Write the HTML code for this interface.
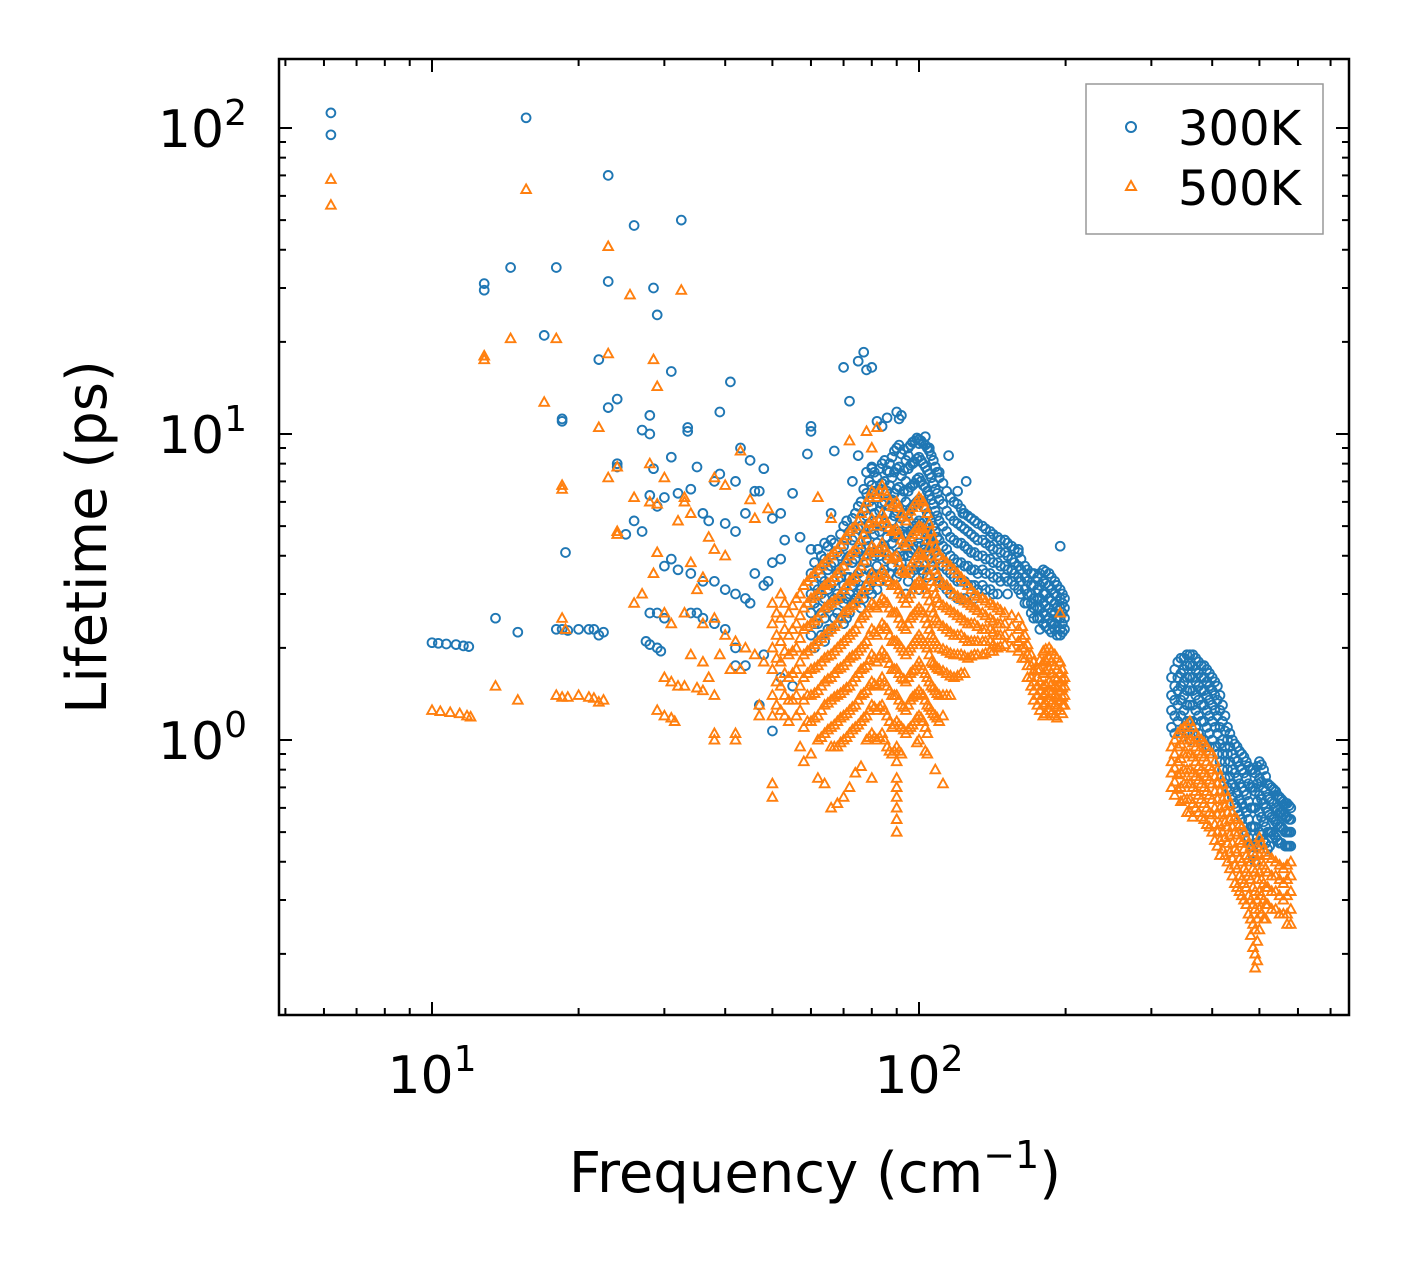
<!DOCTYPE html>
<html><head><meta charset="utf-8"><style>
html,body{margin:0;padding:0;background:#fff;}
svg{display:block;font-family:"DejaVu Sans","Liberation Sans",sans-serif;}
</style></head><body>
<svg id="chart" width="1408" height="1265" viewBox="0 0 1408 1265" xmlns="http://www.w3.org/2000/svg">
<rect width="1408" height="1265" fill="#fff"/>
<g id="marks"></g>
<g id="axes"></g>
<rect x="279" y="59" width="1070" height="956" fill="none" stroke="#000" stroke-width="2.5"/>
<text x="815" y="1192" font-size="56" text-anchor="middle">Frequency (cm<tspan font-size="38" dy="-24">−1</tspan><tspan dy="24">)</tspan></text>
<text transform="translate(106,537) rotate(-90)" font-size="56" text-anchor="middle">Lifetime (ps)</text>
<g>
<rect x="1086" y="84" width="237" height="150" fill="#fff" stroke="#999" stroke-width="1.5"/>
<circle cx="1131" cy="127" r="5" fill="none" stroke="#1f77b4" stroke-width="2"/>
<text x="1178" y="145" font-size="48">300K</text>
<path d="M1131,181 L1136,190 L1126,190 Z" fill="none" stroke="#ff7f0e" stroke-width="2"/>
<text x="1178" y="205" font-size="48">500K</text>
</g>
</svg>
<script>
// ---- data ----
const blueSparseF=[6.2,6.2,15.6,23,26,32.5,12.8,12.8,14.5,18,23,28.5,29,17,22,31,23,24,28,33.5,33.5,41,39,28,27,18.5,18.5,18.8,24,24,28.5,31,35,38,39,42,45,43,48,46,47,34,32,30,28,29,26,27,25,36,37,40,42,44,50,52,55,53,57,60,34,36,38,40,42,44,45,46,48,49,50,52,31,32,30,35,34,36,38,40,42,29,28,30,27.5,28,29,29.5,10,10.3,10.7,11.2,11.6,11.9,13.5,15,18,18.5,19,20,21,21.5,22,22.5,42,44,47,50,48,52,55,60,60,59,64,66,67,70,72,75,77,78,80,82,86,84,90,92,91,75,73,80,87,95,100,103,105,110,115,120,125,123,130,140,150,160,195];
const blueSparseL=[112,95,108,70,48,50,31,29.5,35,35,31.5,30,24.5,21,17.5,16,12.2,13,11.5,10.5,10.2,14.8,11.8,10,10.3,11.2,11,4.1,8,7.8,7.7,8.4,7.8,7,7.4,7,8.2,9,7.7,6.5,6.5,6.6,6.4,6.2,6.3,5.8,5.2,4.8,4.7,5.5,5.2,5.1,4.8,5.5,5.3,5.5,6.4,4.5,4.6,4.2,3.5,3.3,3.3,3.1,3.0,2.9,2.8,3.5,3.2,3.3,3.8,3.9,3.9,3.6,3.7,2.6,2.6,2.5,2.4,2.3,2.0,2.6,2.6,2.5,2.1,2.05,2.0,1.95,2.08,2.07,2.06,2.05,2.03,2.02,2.5,2.25,2.3,2.3,2.28,2.3,2.3,2.3,2.2,2.25,1.75,1.75,1.3,1.07,1.9,1.6,1.5,10.6,10.2,8.6,4.4,5.5,8.8,16.5,12.8,17.3,18.5,16.2,16.5,11,11.3,10.6,11.8,11.5,11.2,8.5,7,7.7,7.5,8.5,9.3,9.8,9,7.5,8.5,6.5,7,5.5,5.2,4.6,4.5,4.2,4.3];
const blueDenseF=[60,62,64,66,68,70,72,74,76,78,80,82,84,86,88,90,92,94,96,98,100,102,104,106,108,110,114,118,122,126,130,135,140,145,150,155,160,165,170,175,180,185,190,195,199,330,340,350,360,370,380,390,400,410,420,430,440,450,460,470,480,490,500,510,520,530,540,550,560,570,580];
const blueDenseL=[[3.5,3.0,2.6,2.2],[4.2,3.6,3.1,2.7,2.4],[3.9,3.3,2.9,2.5,2.1],[4.5,3.7,3.2,2.8,2.3],[4.1,3.5,3.0,2.6],[5.0,4.3,3.7,3.2,2.8,2.4],[4.8,4.0,3.4,3.0,2.6],[5.5,4.6,3.9,3.3,2.9],[6.0,5.0,4.2,3.6,3.1,2.7],[7.5,6.4,5.4,4.5,3.8,3.2],[7.8,6.8,5.8,4.9,4.1,3.5,3.0],[7.2,6.2,5.2,4.4,3.7,3.1],[8.0,6.9,5.9,5.0,4.2,3.5],[7.6,6.5,5.5,4.6,3.9,3.3],[8.4,7.2,6.1,5.2,4.4,3.7],[9.0,7.7,6.6,5.6,4.7,4.0,3.4],[8.6,7.3,6.2,5.3,4.5,3.8],[8.2,7.0,6.0,5.1,4.3,3.6,3.0],[9.2,7.9,6.7,5.7,4.8,4.1,3.5],[9.5,8.1,6.9,5.9,5.0,4.2,3.6],[9.6,8.4,7.2,6.1,5.2,4.4,3.7,3.1],[9.3,8.0,6.8,5.8,4.9,4.2,3.5],[9.0,7.6,6.5,5.5,4.7,4.0,3.4],[8.5,7.2,6.1,5.2,4.4,3.7],[7.8,6.6,5.6,4.8,4.1,3.5],[7.2,6.1,5.2,4.5,3.9,3.3],[6.5,5.6,4.8,4.2,3.6,3.1],[6.0,5.2,4.5,3.9,3.4],[5.7,5.0,4.4,3.8,3.3,2.9],[5.4,4.8,4.2,3.7,3.2],[5.2,4.6,4.1,3.6,3.2,2.9],[5.0,4.5,4.0,3.6,3.2],[4.8,4.3,3.9,3.5,3.1],[4.6,4.2,3.8,3.4,3.0],[4.5,4.1,3.7,3.4],[4.3,3.9,3.6,3.3],[4.1,3.7,3.4,3.1],[3.7,3.4,3.1,2.8],[3.5,3.2,3.0,2.8,2.6],[3.4,3.1,2.9,2.7,2.5],[3.6,3.3,3.0,2.8,2.6,2.4],[3.5,3.2,2.9,2.7,2.5,2.3],[3.3,3.0,2.8,2.6,2.4,2.3],[3.1,2.9,2.7,2.5,2.3,2.2],[2.9,2.7,2.5,2.3],
[1.6,1.4,1.25,1.1],[1.8,1.6,1.45,1.3,1.15],[1.85,1.7,1.55,1.4,1.25,1.1],[1.9,1.75,1.6,1.45,1.3,1.15,1.0],[1.85,1.7,1.55,1.4,1.25,1.1],[1.75,1.6,1.45,1.3,1.15,1.0],[1.7,1.55,1.4,1.25,1.1,0.95],[1.6,1.45,1.3,1.15,1.0],[1.5,1.35,1.2,1.05,0.9],[1.3,1.15,1.0,0.9,0.8],[1.1,1.0,0.9,0.8,0.7],[1.0,0.9,0.8,0.72,0.65],[0.95,0.85,0.75,0.67,0.6],[0.9,0.8,0.7,0.62,0.55],[0.85,0.75,0.66,0.58,0.5],[0.8,0.7,0.6,0.52,0.45],[0.78,0.68,0.6,0.52,0.46,0.4],[0.85,0.75,0.66,0.58,0.5],[0.8,0.7,0.62,0.54,0.47],[0.72,0.65,0.58,0.5,0.44],[0.7,0.63,0.56,0.5],[0.68,0.6,0.54,0.48],[0.65,0.58,0.52,0.46],[0.63,0.57,0.51],[0.62,0.56,0.5,0.45],[0.6,0.55,0.5,0.45]];
const blueFillF=[61,63,65,67,69,71,73,75,77,79,81,83,85,87,89,91,93,95,97,99,101,103,105,107,109,112,116,120,124,128,132,137,142,147,152,157,162,167,172,177,182,187,192,197,335,345,355,365,375,385,395,405,415,425,435,445,455,465,475,485,495,505,515,525,535,545,555,565,575];
const blueFillL=[[3.8,3.2,2.8,2.4,2.0],[4.0,3.4,3.0,2.6,2.2],[4.3,3.6,3.1,2.7,2.3],[4.4,3.8,3.3,2.9,2.5],[4.7,4.0,3.4,2.9,2.5],[5.2,4.5,3.9,3.4,2.9,2.5],[5.3,4.5,3.8,3.2,2.8],[5.8,4.9,4.1,3.5,3.0],[6.6,5.6,4.7,4.0,3.4,2.9],[7.0,6.0,5.1,4.3,3.6,3.1],[7.5,6.5,5.5,4.7,4.0,3.4],[7.7,6.6,5.6,4.8,4.0,3.3],[8.2,7.0,6.0,5.1,4.3,3.6],[8.0,6.8,5.8,4.9,4.1,3.5],[8.8,7.5,6.4,5.4,4.6,3.9],[9.2,7.8,6.7,5.7,4.8,4.1,3.5],[8.9,7.6,6.5,5.5,4.7,4.0],[9.0,7.7,6.5,5.5,4.7,4.0,3.3],[9.4,8.0,6.8,5.8,4.9,4.2],[9.7,8.3,7.1,6.0,5.1,4.3,3.7],[9.5,8.2,7.0,6.0,5.1,4.3,3.6],[9.2,7.8,6.7,5.7,4.8,4.1],[8.8,7.4,6.3,5.4,4.6,3.9],[8.2,6.9,5.9,5.0,4.3,3.6],[7.5,6.4,5.4,4.6,4.0,3.4],[6.9,5.9,5.0,4.3,3.7,3.2],[6.2,5.4,4.6,4.0,3.5,3.0],[5.9,5.1,4.4,3.8,3.3,2.9],[5.5,4.9,4.3,3.7,3.3,2.9],[5.3,4.7,4.1,3.6,3.2],[5.1,4.5,4.0,3.5,3.1],[4.9,4.4,3.9,3.5,3.1],[4.7,4.2,3.8,3.4,3.0],[4.5,4.1,3.7,3.3],[4.4,4.0,3.6,3.3,3.0],[4.2,3.8,3.5,3.2],[3.9,3.6,3.3,3.0],[3.6,3.3,3.0,2.8],[3.5,3.2,2.9,2.7,2.5],[3.5,3.2,2.9,2.7,2.5,2.3],[3.55,3.25,3.0,2.75,2.55,2.35],[3.4,3.1,2.85,2.6,2.4,2.25],[3.2,2.95,2.7,2.5,2.35,2.2],[3.0,2.8,2.6,2.4,2.25],
[1.7,1.5,1.35,1.2,1.05],[1.85,1.65,1.5,1.35,1.2,1.05],[1.9,1.75,1.6,1.45,1.3,1.15,1.05],[1.9,1.75,1.6,1.45,1.3,1.15,1.05],[1.8,1.65,1.5,1.35,1.2,1.05],[1.75,1.6,1.45,1.3,1.15,1.0],[1.65,1.5,1.35,1.2,1.05,0.95],[1.55,1.4,1.25,1.1,0.95],[1.4,1.25,1.1,0.97,0.85],[1.2,1.07,0.95,0.85,0.75],[1.05,0.95,0.85,0.76,0.68],[0.97,0.87,0.78,0.7,0.62],[0.92,0.82,0.72,0.64,0.57],[0.88,0.78,0.68,0.6,0.52],[0.82,0.72,0.63,0.55,0.48],[0.8,0.7,0.6,0.52,0.45,0.42],[0.82,0.72,0.63,0.55,0.48,0.42],[0.83,0.73,0.64,0.56,0.49],[0.76,0.68,0.6,0.52,0.46],[0.71,0.64,0.57,0.5,0.45],[0.69,0.62,0.55,0.49],[0.66,0.59,0.53,0.47],[0.64,0.58,0.52,0.46],[0.62,0.56,0.5,0.45],[0.61,0.55,0.5,0.45]];
const orangeSparseF=[6.2,6.2,15.6,23,25.5,32.5,12.8,12.8,14.5,18,23,28.5,29,17,22,24,23,18.5,18.5,28,30,28,29,26,24,24,28.5,27,26,29,33,33,34,32,38,43,40,45,49,46,37,38,40,34,36,35,33,31,30,36,38,40,42,44,46,48,39,41,43,34,36,37,31,30,32,33,35,36,38,30,31,31.5,29,10,10.4,10.9,11.4,11.8,12,13.5,15,18,18.5,19,20,21,21.5,22,22.5,18.5,18.8,38,38,42,42,47,47,50,50,58,57,60,62,64,66,68,70,72,74,76,80,90,90,90,90,90,90,108,112,62,66,72,78,80,82,195];
const orangeSparseL=[68,56,63,41,28.5,29.5,18,17.5,20.5,20.5,18.3,17.5,14.3,12.7,10.5,7.8,7.2,6.8,6.6,8,7.2,6.0,5.9,6.2,4.8,4.7,3.5,3.0,2.8,4.1,6.2,6,5.5,5.2,7.2,8.8,6.8,6.1,5.7,5.3,4.6,4.2,4.0,3.8,3.4,3.1,2.6,2.4,2.6,2.4,2.5,2.2,2.1,2.0,1.9,1.8,1.9,1.7,1.7,1.9,1.8,1.6,1.55,1.6,1.5,1.5,1.48,1.45,1.4,1.2,1.18,1.15,1.25,1.25,1.24,1.23,1.22,1.2,1.19,1.5,1.35,1.4,1.38,1.38,1.4,1.38,1.37,1.33,1.35,2.5,2.3,1.05,1.0,1.05,1.0,1.3,1.2,0.72,0.65,0.85,0.95,0.9,0.75,0.72,0.6,0.62,0.65,0.7,0.78,0.82,0.75,0.5,0.55,0.6,0.65,0.7,0.75,0.8,0.72,6.2,5.3,9.5,10.2,9.0,10.5,2.6];
const orangeDenseF=[50,52,54,56,58,60,62,64,66,68,70,72,74,76,78,80,82,84,86,88,90,92,94,96,98,100,102,104,106,108,110,114,118,122,126,130,135,140,145,150,160,165,170,175,180,185,190,195,199,330,340,350,360,370,380,390,400,410,420,430,440,450,460,470,480,490,500,510,520,540,560,580];
const orangeDenseL=[[2.8,2.4,2.0,1.7,1.4,1.2],[3.0,2.5,2.1,1.8,1.5,1.25],[2.6,2.2,1.9,1.6,1.35,1.15],[2.9,2.4,2.0,1.7,1.4,1.2],[3.2,2.7,2.3,1.9,1.6,1.35,1.1],[3.4,2.9,2.4,2.0,1.7,1.4,1.15],[3.6,3.0,2.5,2.1,1.75,1.45,1.2,1.0],[3.8,3.2,2.7,2.2,1.85,1.55,1.3,1.05],[4.0,3.3,2.8,2.3,1.9,1.6,1.35,1.1,0.95],[4.2,3.5,2.9,2.4,2.0,1.7,1.4,1.15,0.95],[4.5,3.7,3.1,2.6,2.1,1.75,1.45,1.2,1.0],[4.8,4.0,3.3,2.7,2.2,1.85,1.5,1.25,1.05],[5.0,4.2,3.4,2.8,2.3,1.9,1.6,1.3,1.1],[5.5,4.5,3.7,3.0,2.5,2.0,1.7,1.4,1.15],[6.0,4.9,4.0,3.2,2.6,2.1,1.75,1.45,1.2,1.0],[6.5,5.3,4.3,3.5,2.8,2.3,1.9,1.55,1.3,1.05],[6.2,5.0,4.1,3.3,2.7,2.2,1.8,1.5,1.25,1.0],[6.8,5.5,4.4,3.6,2.9,2.4,1.95,1.6,1.3,1.05],[6.3,5.1,4.1,3.4,2.8,2.3,1.85,1.5,1.2,0.95],[5.8,4.8,3.9,3.2,2.6,2.1,1.7,1.4,1.1,0.9],[6.0,4.9,4.0,3.2,2.6,2.1,1.7,1.4,1.15,0.95,0.85],[5.5,4.5,3.6,3.0,2.4,2.0,1.6,1.3,1.1,0.9],[5.2,4.3,3.5,2.8,2.3,1.9,1.55,1.25,1.05],[5.6,4.6,3.7,3.0,2.5,2.0,1.65,1.35,1.1],[5.9,4.8,3.9,3.2,2.6,2.1,1.7,1.4,1.15],[6.2,5.0,4.1,3.3,2.7,2.2,1.8,1.45,1.2,1.0],[6.0,4.9,4.0,3.2,2.6,2.1,1.7,1.4,1.15],[5.5,4.5,3.6,3.0,2.4,2.0,1.6,1.3,1.05,0.9],[4.8,4.0,3.3,2.7,2.2,1.8,1.5,1.25],[4.3,3.6,3.0,2.5,2.1,1.75,1.45,1.2],[4.0,3.3,2.8,2.4,2.0,1.7,1.4,1.15],[3.8,3.2,2.7,2.3,1.95,1.65,1.4],[3.6,3.0,2.6,2.2,1.9,1.6],[3.4,2.9,2.5,2.2,1.9,1.65],[3.2,2.8,2.4,2.1,1.85],[3.0,2.7,2.4,2.1,1.9],[2.9,2.6,2.3,2.1,1.9],[2.8,2.5,2.3,2.1,1.95],[2.7,2.4,2.2,2.0],[2.6,2.4,2.2,2.05],[2.5,2.3,2.1,1.95],[2.2,2.0,1.85],[1.9,1.75,1.6,1.5],[1.7,1.6,1.5,1.4,1.3],[1.95,1.8,1.65,1.5,1.4,1.3,1.2],[2.0,1.85,1.7,1.55,1.45,1.35,1.25],[1.9,1.75,1.6,1.5,1.4,1.3,1.2],[1.8,1.65,1.55,1.45,1.35,1.25],[1.6,1.5,1.4,1.3],
[0.95,0.85,0.78,0.7],[1.05,0.95,0.85,0.77,0.69],[1.1,1.0,0.9,0.8,0.72,0.64],[1.15,1.0,0.9,0.8,0.72,0.64,0.58],[1.05,0.95,0.85,0.76,0.68,0.6],[1.0,0.9,0.8,0.72,0.64,0.56],[0.95,0.85,0.76,0.68,0.6,0.53],[0.9,0.8,0.72,0.64,0.57,0.5],[0.8,0.72,0.64,0.57,0.5,0.45],[0.72,0.64,0.57,0.5,0.44],[0.65,0.58,0.52,0.46,0.4],[0.58,0.52,0.46,0.41,0.36],[0.55,0.49,0.43,0.38,0.33],[0.52,0.46,0.4,0.35,0.31],[0.48,0.42,0.37,0.33,0.29],[0.45,0.4,0.35,0.3,0.26,0.23],[0.42,0.37,0.32,0.28,0.24,0.2,0.18],[0.48,0.42,0.37,0.32,0.28,0.24],[0.44,0.39,0.34,0.3,0.26],[0.42,0.37,0.33,0.29],[0.4,0.36,0.32,0.28],[0.38,0.34,0.3,0.27],[0.4,0.36,0.32,0.28,0.25]];
const orangeFillF=[51,53,55,57,59,61,63,65,67,69,71,73,75,77,79,81,83,85,87,89,91,93,95,97,99,101,103,105,107,109,112,116,120,124,128,132,137,142,147,155,163,167,172,177,182,187,192,197,335,345,355,365,375,385,395,405,415,425,435,445,455,465,475,485,495,505,515,530,550,570];
const orangeFillL=[[2.6,2.2,1.85,1.55,1.3],[2.8,2.3,1.95,1.65,1.4,1.2],[2.75,2.3,1.95,1.65,1.35],[3.0,2.55,2.15,1.8,1.5,1.25],[3.3,2.8,2.35,1.95,1.65,1.4,1.15],[3.5,2.95,2.45,2.05,1.72,1.42,1.18],[3.7,3.1,2.6,2.15,1.8,1.5,1.25,1.02],[3.9,3.25,2.75,2.25,1.88,1.58,1.32,1.08],[4.1,3.4,2.85,2.35,1.95,1.65,1.38,1.12,0.95],[4.35,3.6,3.0,2.5,2.05,1.72,1.42,1.18,0.98],[4.65,3.85,3.2,2.65,2.15,1.8,1.48,1.22,1.02],[4.9,4.1,3.35,2.75,2.25,1.88,1.55,1.28,1.08],[5.2,4.35,3.55,2.9,2.4,1.95,1.65,1.35,1.12],[5.7,4.7,3.85,3.1,2.55,2.05,1.72,1.42,1.18],[6.2,5.1,4.15,3.35,2.7,2.2,1.82,1.5,1.25,1.02],[6.35,5.15,4.2,3.4,2.75,2.25,1.85,1.52,1.28,1.02],[6.5,5.25,4.25,3.45,2.8,2.3,1.88,1.55,1.28,1.02],[6.5,5.3,4.25,3.5,2.85,2.35,1.9,1.55,1.25,1.0],[6.0,4.95,4.0,3.3,2.7,2.2,1.78,1.45,1.15,0.92],[5.9,4.85,3.95,3.2,2.6,2.1,1.7,1.4,1.12,0.92],[5.75,4.7,3.8,3.1,2.5,2.05,1.65,1.35,1.12,0.92],[5.35,4.4,3.55,2.9,2.35,1.95,1.58,1.28,1.08],[5.4,4.45,3.6,2.9,2.4,1.95,1.6,1.3,1.08],[5.75,4.7,3.8,3.1,2.55,2.05,1.68,1.38,1.12],[6.05,4.9,4.0,3.25,2.65,2.15,1.75,1.42,1.18,0.98],[6.1,4.95,4.05,3.25,2.65,2.15,1.75,1.42,1.18],[5.75,4.7,3.8,3.1,2.5,2.05,1.65,1.35,1.1,0.92],[5.1,4.25,3.45,2.85,2.3,1.9,1.55,1.28],[4.55,3.8,3.15,2.6,2.15,1.78,1.48,1.22],[4.15,3.45,2.9,2.45,2.05,1.72,1.42,1.18],[3.9,3.25,2.75,2.35,1.98,1.68,1.4,1.2],[3.7,3.1,2.65,2.25,1.92,1.62,1.4],[3.5,2.95,2.55,2.2,1.9,1.62],[3.3,2.85,2.45,2.15,1.88,1.65],[3.1,2.75,2.4,2.1,1.88],[2.95,2.65,2.35,2.1,1.9],[2.85,2.55,2.3,2.1,1.92],[2.75,2.45,2.25,2.05,1.95],[2.65,2.4,2.2,2.02],[2.55,2.35,2.15,2.0],[2.35,2.15,2.0,1.85],[2.05,1.9,1.75,1.6],[1.8,1.68,1.55,1.45,1.35],[1.82,1.7,1.55,1.45,1.35,1.25],[1.98,1.82,1.68,1.52,1.42,1.32,1.22],[1.95,1.8,1.65,1.52,1.42,1.32,1.22],[1.85,1.7,1.58,1.48,1.38,1.28,1.18],[1.7,1.58,1.48,1.38,1.3,1.22],
[1.0,0.9,0.81,0.73,0.66],[1.08,0.97,0.87,0.78,0.7,0.63],[1.12,1.0,0.9,0.8,0.72,0.64,0.58],[1.1,0.98,0.88,0.78,0.7,0.62,0.56],[1.02,0.92,0.82,0.74,0.66,0.58],[0.98,0.88,0.78,0.7,0.62,0.55],[0.92,0.82,0.74,0.66,0.58,0.52],[0.85,0.76,0.68,0.6,0.53,0.47],[0.76,0.68,0.6,0.53,0.47,0.42],[0.68,0.61,0.54,0.48,0.42],[0.62,0.55,0.49,0.43,0.38],[0.56,0.5,0.44,0.39,0.34],[0.53,0.47,0.41,0.36,0.32],[0.5,0.44,0.38,0.34,0.3],[0.46,0.41,0.36,0.31,0.27],[0.43,0.38,0.33,0.29,0.25,0.21],[0.45,0.4,0.35,0.3,0.26,0.22,0.19],[0.46,0.4,0.35,0.31,0.27],[0.43,0.38,0.33,0.29,0.26],[0.41,0.36,0.32,0.28],[0.39,0.35,0.31,0.27],[0.39,0.35,0.31,0.27,0.25]];
const xMajorTicks=[10,100];
const xMajorLabels=["1","2"];
const xMinorTicks=[5,6,7,8,9,20,30,40,50,60,70,80,90,200,300,400,500,600,700];
const yMajorTicks=[1,10,100];
const yMajorLabels=["0","1","2"];
const yMinorTicks=[0.2,0.3,0.4,0.5,0.6,0.7,0.8,0.9,2,3,4,5,6,7,8,9,20,30,40,50,60,70,80,90];

// ---- axes ----
const X0=279,X1=1349,Y0=59,Y1=1015;
function xs(f){return 432+487*Math.log10(f/10);}
function ys(v){return 740-306*Math.log10(v);}
const NS="http://www.w3.org/2000/svg";
const marks=document.getElementById('marks');
const axes=document.getElementById('axes');
function el(t,a,p){const e=document.createElementNS(NS,t);for(const k in a)e.setAttribute(k,a[k]);p.appendChild(e);return e;}

function circ(f,v){
  const c=el('circle',{cx:xs(f).toFixed(1),cy:ys(v).toFixed(1),r:4.4,fill:'none',stroke:'#1f77b4','stroke-width':1.9},marks);
  
  
}
function tri(f,v){
  const x=xs(f),y=ys(v);
  const p=el('path',{d:`M${x.toFixed(1)},${(y-5).toFixed(1)} L${(x+4.8).toFixed(1)},${(y+3.6).toFixed(1)} L${(x-4.8).toFixed(1)},${(y+3.6).toFixed(1)} Z`,fill:'none',stroke:'#ff7f0e','stroke-width':1.9},marks);
  
  
}
blueSparseF.forEach((f,i)=>circ(f,blueSparseL[i]));
blueDenseF.forEach((f,i)=>blueDenseL[i].forEach(v=>circ(f,v)));
blueFillF.forEach((f,i)=>blueFillL[i].forEach(v=>circ(f,v)));
orangeSparseF.forEach((f,i)=>tri(f,orangeSparseL[i]));
orangeDenseF.forEach((f,i)=>orangeDenseL[i].forEach(v=>tri(f,v)));
orangeFillF.forEach((f,i)=>orangeFillL[i].forEach(v=>tri(f,v)));

function tick(x1,y1,x2,y2){el('line',{x1,y1,x2,y2,stroke:'#000','stroke-width':2},axes);}
xMajorTicks.forEach((f,i)=>{
  const x=xs(f);
  tick(x,Y1,x,Y1-13);tick(x,Y0,x,Y0+13);
  const t=el('text',{x:x,y:1093,'font-size':52,'text-anchor':'middle'},axes);
  
  
  t.textContent='10';
  const s=el('tspan',{dy:-22,'font-size':36},t);s.textContent=xMajorLabels[i];
});
xMinorTicks.forEach(f=>{const x=xs(f);tick(x,Y1,x,Y1-7);tick(x,Y0,x,Y0+7);});
yMajorTicks.forEach((v,i)=>{
  const y=ys(v);
  tick(X0,y,X0+13,y);tick(X1,y,X1-13,y);
  const t=el('text',{x:247,y:y+19,'font-size':52,'text-anchor':'end'},axes);
  
  
  t.textContent='10';
  const s=el('tspan',{dy:-22,'font-size':36},t);s.textContent=yMajorLabels[i];
});
yMinorTicks.forEach(v=>{const y=ys(v);tick(X0,y,X0+7,y);tick(X1,y,X1-7,y);});
</script>
</body></html>
